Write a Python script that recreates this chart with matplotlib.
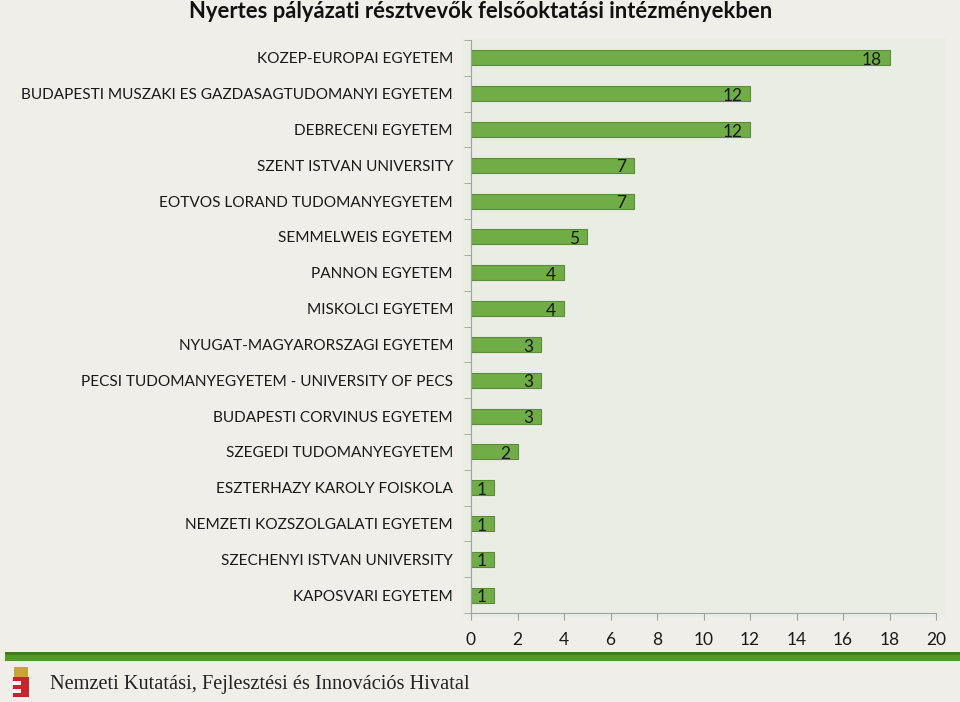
import numpy as np
import matplotlib.pyplot as plt
from matplotlib.patches import Rectangle

institutions = ['KOZEP-EUROPAI EGYETEM',
                'BUDAPESTI MUSZAKI ES GAZDASAGTUDOMANYI EGYETEM',
                'DEBRECENI EGYETEM',
                'SZENT ISTVAN UNIVERSITY',
                'EOTVOS LORAND TUDOMANYEGYETEM',
                'SEMMELWEIS EGYETEM',
                'PANNON EGYETEM',
                'MISKOLCI EGYETEM',
                'NYUGAT-MAGYARORSZAGI EGYETEM',
                'PECSI TUDOMANYEGYETEM - UNIVERSITY OF PECS',
                'BUDAPESTI CORVINUS EGYETEM',
                'SZEGEDI TUDOMANYEGYETEM',
                'ESZTERHAZY KAROLY FOISKOLA',
                'NEMZETI KOZSZOLGALATI EGYETEM',
                'SZECHENYI ISTVAN UNIVERSITY',
                'KAPOSVARI EGYETEM']
winners = [18, 12, 12, 7, 7, 5, 4, 4, 3, 3, 3, 2, 1, 1, 1, 1]
xticks = [0, 2, 4, 6, 8, 10, 12, 14, 16, 18, 20]

plt.rcParams['font.family'] = ['Lato', 'DejaVu Sans']

fig = plt.figure(figsize=(9.6, 7.02), dpi=100)
fig.patch.set_facecolor('#efeee8')

# plot area background (slightly larger than axes, like Excel)
fig.patches.append(Rectangle((462/960, 1 - 618/702), 484/960, 580/702,
                             transform=fig.transFigure, facecolor='#eaede4',
                             edgecolor='none', zorder=-1))

ax = fig.add_axes([471/960, 1 - 613/702, 465/960, 573/702])
ax.set_zorder(2)
ax.set_facecolor('none')

y = np.arange(len(institutions))
ax.barh(y, winners, height=0.42, color='#70ad47', edgecolor='#5b8c3a',
        linewidth=0.8)
for yi, v in zip(y, winners):
    ax.text(v - 0.33, yi + 0.06, str(v), ha='right', va='center',
            fontsize=12.5, color='#1a1a1a')

ax.set_ylim(len(institutions) - 0.5, -0.5)
ax.set_xlim(0, 20)
ax.set_xticks(xticks)
ax.set_xticklabels([str(t) for t in xticks], fontsize=12.5, color='#1a1a1a')
ax.set_yticks(y)
ax.set_yticklabels(institutions, fontsize=11.1, color='#1a1a1a')
ax.tick_params(axis='y', length=0, pad=13)
ax.set_yticks(np.arange(-0.5, len(institutions), 1), minor=True)
ax.tick_params(axis='y', which='minor', length=5, color='#a0a0a0',
               direction='out')
ax.tick_params(axis='x', length=5, color='#a0a0a0', direction='out', pad=9)
for s in ['top', 'right']:
    ax.spines[s].set_visible(False)
for s in ['left', 'bottom']:
    ax.spines[s].set_color('#a0a0a0')

fig.text(481/960, 1 - 12/702, 'Nyertes pályázati résztvevők felsőoktatási intézményekben',
         ha='center', va='center', fontsize=15.8, fontweight='bold',
         color='#111111')

# footer: green stripe, emblem, agency name
fig.patches.append(Rectangle((5/960, 1 - 661/702), 955/960, 9/702,
                             transform=fig.transFigure, facecolor='#4f9a2a',
                             edgecolor='none'))
fig.patches.append(Rectangle((5/960, 1 - 655/702), 955/960, 3/702,
                             transform=fig.transFigure, facecolor='#3f7d1f',
                             edgecolor='none'))
for i, c in enumerate(['#c8242b', '#ffffff', '#c8242b', '#ffffff', '#c8242b']):
    fig.patches.append(Rectangle((13/960, 1 - (697 - i*4)/702), 8/960, 4/702,
                                 transform=fig.transFigure, facecolor=c,
                                 edgecolor='none'))
fig.patches.append(Rectangle((21/960, 1 - 697/702), 8/960, 20/702,
                             transform=fig.transFigure, facecolor='#c8242b',
                             edgecolor='none'))
fig.patches.append(Rectangle((14/960, 1 - 677/702), 14/960, 10/702,
                             transform=fig.transFigure, facecolor='#c9a23a',
                             edgecolor='none'))
fig.text(50/960, 1 - 684/702, 'Nemzeti Kutatási, Fejlesztési és Innovációs Hivatal',
         ha='left', va='center', fontsize=14.7, family='Liberation Serif',
         color='#222222')

plt.savefig('out.png', dpi=100, facecolor=fig.get_facecolor())
